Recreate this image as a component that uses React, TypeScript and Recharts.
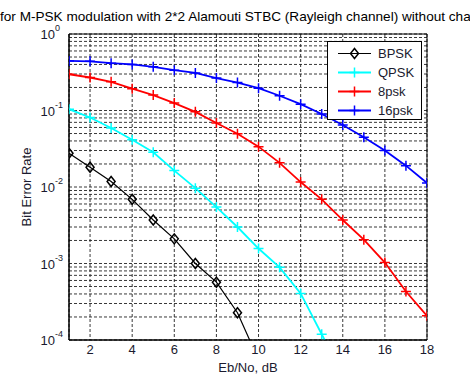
import React from 'react';
import { LineChart, Line, XAxis, YAxis, CartesianGrid, Legend, ReferenceArea } from 'recharts';

// Eb/No in dB
const ebNo = [1, 2, 3, 4, 5, 6, 7, 8, 9, 10, 11, 12, 13, 14, 15, 16, 17, 18];

// BER values
const bpsk = [0.0276, 0.0181, 0.0118, 0.0069, 0.0037, 0.0021, 0.001, 0.00057, 0.000227, 0.000055];
const qpsk = [0.104, 0.081, 0.059, 0.0414, 0.0284, 0.0164, 0.00965, 0.00546, 0.003, 0.00157, 0.00089, 0.000406, 0.000119, 0.000035];
const psk8 = [0.298, 0.27, 0.237, 0.193, 0.159, 0.125, 0.096, 0.0686, 0.0496, 0.0337, 0.0207, 0.0116, 0.0069, 0.0037, 0.00205, 0.00103, 0.00043, 0.000207];
const psk16 = [0.445, 0.44, 0.416, 0.4, 0.372, 0.337, 0.31, 0.265, 0.232, 0.196, 0.156, 0.121, 0.09, 0.0646, 0.0446, 0.0299, 0.019, 0.0113];

const xTicks = [2, 4, 6, 8, 10, 12, 14, 16, 18];
const yMajor = [1e-4, 1e-3, 1e-2, 1e-1, 1];
const yExponents = ['-4', '-3', '-2', '-1', '0'];
const minorSteps = [2, 3, 4, 5, 6, 7, 8, 9];

const yMin = 1e-4;
const yMax = 1;
const font = '"Liberation Sans", Arial, sans-serif';
const textColor = '#1a1a2e';

const yTicks = [
  ...yMajor,
  ...yMajor.slice(0, 4).flatMap((m) => minorSteps.map((s) => +(m * s).toPrecision(3))),
].sort((a, b) => a - b);

const data = ebNo.map((x, i) => ({
  x,
  bpsk: bpsk[i],
  qpsk: qpsk[i],
  psk8: psk8[i],
  psk16: psk16[i],
}));

type Series = { key: string; name: string; color: string; width: number; marker: 'diamond' | 'plus' };

const series: Series[] = [
  { key: 'bpsk', name: 'BPSK', color: '#000000', width: 1.2, marker: 'diamond' },
  { key: 'qpsk', name: 'QPSK', color: '#00ffff', width: 1.8, marker: 'plus' },
  { key: 'psk8', name: '8psk', color: '#ff0000', width: 1.8, marker: 'plus' },
  { key: 'psk16', name: '16psk', color: '#0000ff', width: 1.8, marker: 'plus' },
];

const Marker = ({ cx, cy, color, marker }: { cx: number; cy: number; color: string; marker: string }) => {
  if (marker === 'diamond') {
    return (
      <path
        d={`M${cx},${cy - 5} L${cx + 4},${cy} L${cx},${cy + 5} L${cx - 4},${cy} Z`}
        fill="none"
        stroke={color}
        strokeWidth={1.5}
      />
    );
  }
  return (
    <path
      d={`M${cx - 5},${cy} L${cx + 5},${cy} M${cx},${cy - 5} L${cx},${cy + 5}`}
      stroke={color}
      strokeWidth={1.5}
    />
  );
};

const makeDot = (s: Series) => (props: any) => {
  const { cx, cy, value, index } = props;
  if (cx == null || cy == null || value == null || value < yMin) {
    return <g key={`${s.key}-${index}`} />;
  }
  return (
    <g key={`${s.key}-${index}`}>
      <Marker cx={cx} cy={cy} color={s.color} marker={s.marker} />
    </g>
  );
};

const YTick = (props: any) => {
  const { y, payload } = props;
  const idx = yMajor.indexOf(payload.value);
  if (idx < 0) return <g />;
  return (
    <g>
      <text x={55} y={y + 5} textAnchor="end" fontSize={13} fontFamily={font} fill={textColor}>
        10
      </text>
      <text x={55} y={y - 3} textAnchor="start" fontSize={9} fontFamily={font} fill={textColor}>
        {yExponents[idx]}
      </text>
    </g>
  );
};

const LegendBox = () => (
  <div
    style={{
      width: 95,
      height: 79,
      boxSizing: 'border-box',
      border: '1px solid #000',
      background: '#fff',
      paddingTop: 2,
    }}
  >
    {series.map((s) => (
      <div key={s.key} style={{ display: 'flex', alignItems: 'center', height: 19 }}>
        <svg width={50} height={19} style={{ display: 'block' }}>
          <line x1={10} x2={43} y1={9.5} y2={9.5} stroke={s.color} strokeWidth={s.width} />
          <Marker cx={26.5} cy={9.5} color={s.color} marker={s.marker} />
        </svg>
        <span style={{ fontFamily: font, fontSize: 13, color: textColor }}>{s.name}</span>
      </div>
    ))}
  </div>
);

export default function App() {
  return (
    <div style={{ position: 'absolute', left: 0, top: 0, width: 470, height: 376, overflow: 'hidden', background: '#fff' }}>
      <div
        style={{
          position: 'absolute',
          left: 0,
          top: 8,
          whiteSpace: 'nowrap',
          fontFamily: font,
          fontSize: 13.6,
          lineHeight: '17px',
          color: '#000',
        }}
      >
        for M-PSK modulation with 2*2 Alamouti STBC (Rayleigh channel) without channel estimation
      </div>
      <LineChart width={470} height={376} data={data} margin={{ top: 34, right: 43, bottom: 0, left: 0 }}>
        <CartesianGrid stroke="#222" strokeDasharray="3 2" strokeWidth={0.9} />
        <XAxis
          dataKey="x"
          type="number"
          domain={[1, 18]}
          ticks={xTicks}
          allowDataOverflow
          height={36}
          tickLine={false}
          tickSize={4}
          tickMargin={1}
          axisLine={{ stroke: '#000' }}
          tick={{ fill: textColor, fontSize: 13, fontFamily: font }}
          label={{ value: 'Eb/No, dB', position: 'insideBottom', offset: 4, fill: textColor, fontSize: 13, fontFamily: font }}
        />
        <YAxis
          type="number"
          scale="log"
          domain={[yMin, yMax]}
          allowDataOverflow
          ticks={yTicks}
          interval={0}
          width={69}
          tickLine={false}
          axisLine={{ stroke: '#000' }}
          tick={<YTick />}
          label={{
            value: 'Bit Error Rate',
            angle: -90,
            position: 'center',
            dx: -8,
            fill: textColor,
            fontSize: 13,
            fontFamily: font,
          }}
        />
        <ReferenceArea x1={1} x2={18} y1={yMin} y2={yMax} fill="none" fillOpacity={0} stroke="#000" strokeWidth={1} />
        {series.map((s) => (
          <Line
            key={s.key}
            dataKey={s.key}
            name={s.name}
            type="linear"
            stroke={s.color}
            strokeWidth={s.width}
            dot={makeDot(s)}
            activeDot={false}
            isAnimationActive={false}
          />
        ))}
        <Legend
          layout="vertical"
          align="center"
          verticalAlign="middle"
          wrapperStyle={{ left: 327, top: 41, width: 95, height: 79 }}
          content={<LegendBox />}
        />
      </LineChart>
    </div>
  );
}
